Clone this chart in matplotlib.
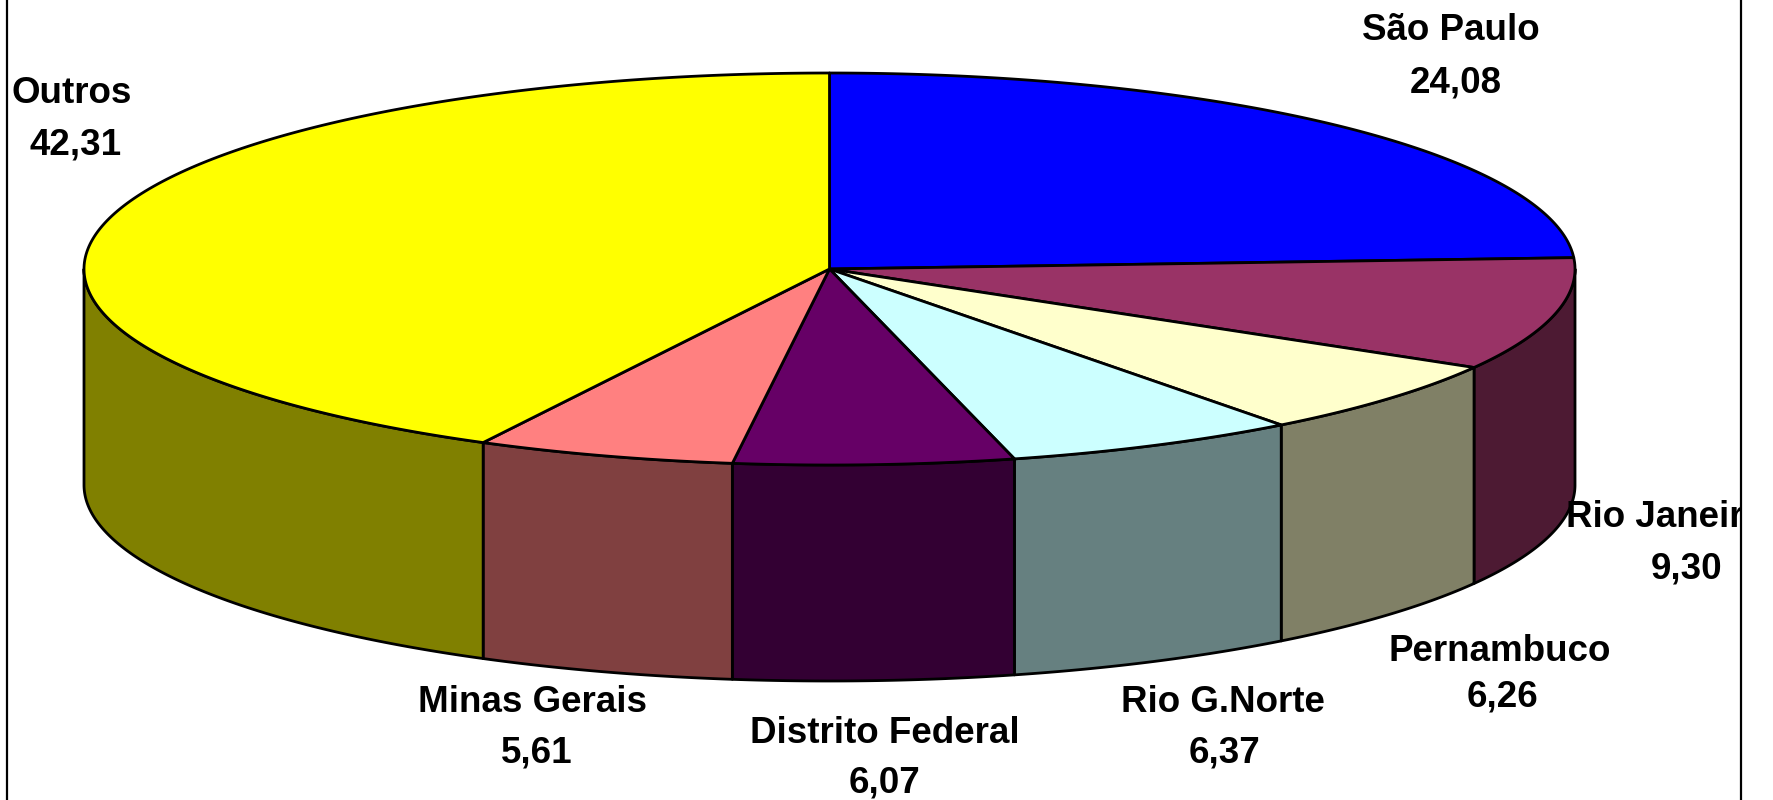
import numpy as np
import matplotlib
matplotlib.use("Agg")
import matplotlib.pyplot as plt
from matplotlib.patches import Polygon
from matplotlib.transforms import Bbox, TransformedBbox

# data (percent share by state)
states = ["São Paulo", "Rio Janeiro", "Pernambuco", "Rio G.Norte",
          "Distrito Federal", "Minas Gerais", "Outros"]
shares = [24.08, 9.30, 6.26, 6.37, 6.07, 5.61, 42.31]
top_colors = ["#0000FF", "#993366", "#FFFFCC", "#CCFFFF", "#660066", "#FF8080", "#FFFF00"]
side_colors = ["#000080", "#4D1A33", "#808066", "#668080", "#330033", "#804040", "#808000"]

# label placement (pixel coords: name x, value x, name baseline, gap to value baseline)
name_x = [1451, 1666, 1500, 1223, 885, 532, 72]
value_x = [1456, 1687, 1502, 1225, 885, 537, 76]
label_y = [40, 527, 661, 712, 743, 712, 103]
label_gap = [52, 51, 46, 50, 50, 51, 52]

W, H = 1773, 800
cx, cy, rx, ry, depth = 829.5, 269, 745.5, 196, 216
lw = 2.0

fig = plt.figure(figsize=(W / 100, H / 100), dpi=100)
ax = fig.add_axes([0, 0, 1, 1])
ax.set_xlim(0, W)
ax.set_ylim(H, 0)
ax.axis("off")


def ell(t, dy=0.0):
    t = np.radians(t)
    return np.column_stack([cx + rx * np.cos(t), cy - ry * np.sin(t) + dy])


# slice angles, clockwise from 12 o'clock
total = sum(shares)
bounds = [90 - 360 * c / total for c in np.concatenate([[0], np.cumsum(shares)])]

# sides (only the front half shows)
for i in range(len(shares)):
    t1, t2 = bounds[i], bounds[i + 1]
    hi, lo = min(t1, 0), max(t2, -180)
    if lo >= hi:
        continue
    ts = np.linspace(hi, lo, 120)
    pts = np.vstack([ell(ts), ell(ts[::-1], depth)])
    ax.add_patch(Polygon(pts, closed=True, facecolor=side_colors[i],
                         edgecolor="black", linewidth=lw, joinstyle="round"))

# top wedges
for i in range(len(shares)):
    t1, t2 = bounds[i], bounds[i + 1]
    ts = np.linspace(t1, t2, 200)
    pts = np.vstack([[cx, cy], ell(ts)])
    ax.add_patch(Polygon(pts, closed=True, facecolor=top_colors[i],
                         edgecolor="black", linewidth=lw, joinstyle="round"))

# chart area frame (only left and right edges visible)
ax.plot([7, 7], [0, H], color="black", linewidth=1.6)
ax.plot([1741, 1741], [0, H], color="black", linewidth=1.6)
clip = TransformedBbox(Bbox.from_extents(7, 0, 1741, H), ax.transData)

font = dict(family="Liberation Sans", weight="bold", size=26.5)
for name, val, xn, xv, y, g in zip(states, shares, name_x, value_x, label_y, label_gap):
    for s, xx, yy in ((name, xn, y), (f"{val:.2f}".replace(".", ","), xv, y + g)):
        t = ax.text(xx, yy, s, ha="center", va="baseline", **font)
        t.set_clip_on(True)
        t.set_clip_box(clip)

fig.savefig("out.png", dpi=100)
